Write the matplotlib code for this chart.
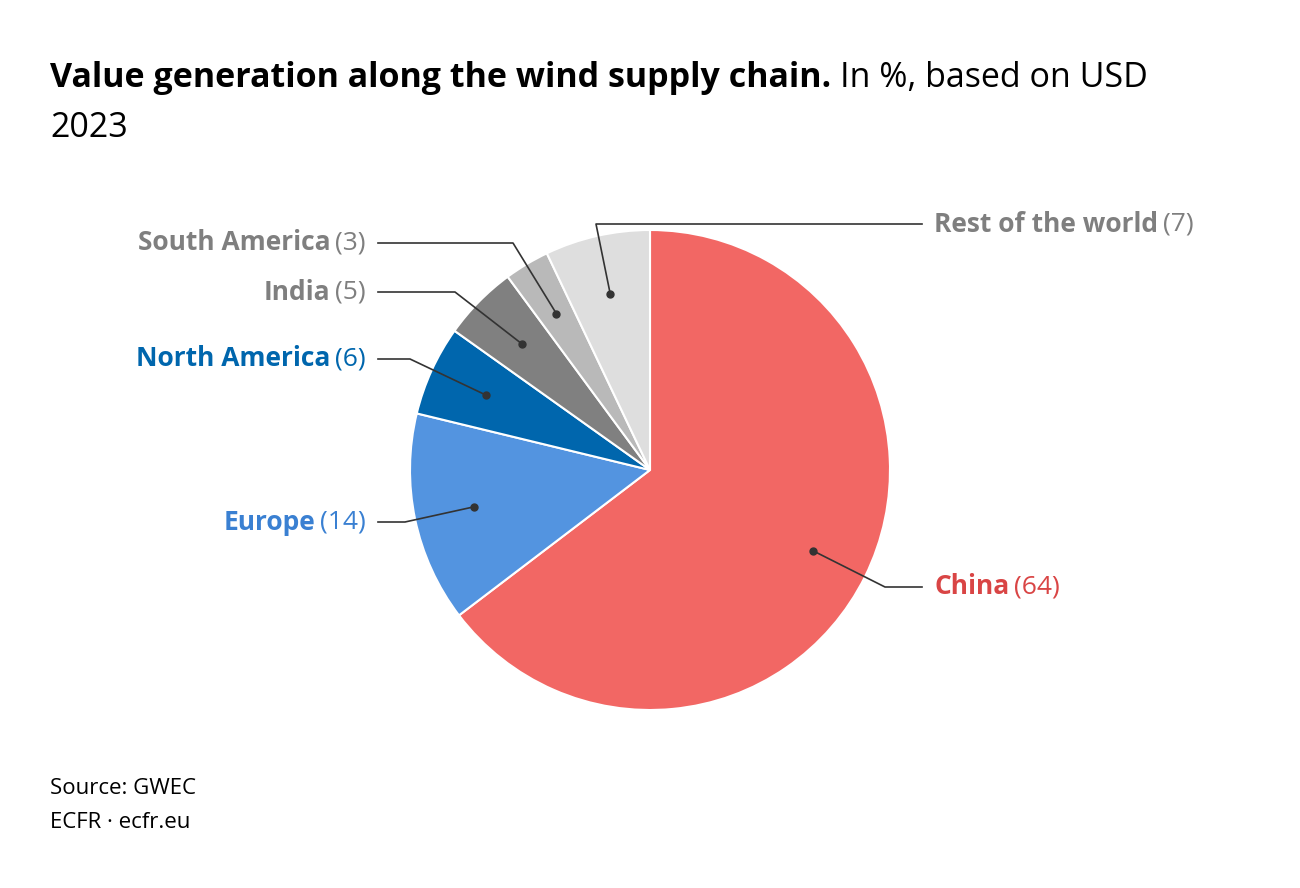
import matplotlib
matplotlib.use("Agg")
import matplotlib.pyplot as plt
import numpy as np

categories = ["China", "Europe", "North America", "India", "South America", "Rest of the world"]
values = [64, 14, 6, 5, 3, 7]
colors = ["#f26764", "#5394e0", "#0066ad", "#808080", "#b9b9b9", "#dedede"]
label_colors = ["#d94545", "#3a80d2", "#0066ad", "#7f7f7f", "#7f7f7f", "#7f7f7f"]

W, H = 1300, 888
plt.rcParams["font.family"] = "Open Sans"
fig = plt.figure(figsize=(13, 8.88), dpi=100)
ax = fig.add_axes([0, 0, 1, 1])

cx, cy, R = 650, H - 470, 240
wedges, _ = ax.pie(values, colors=colors, startangle=90, counterclock=False,
                   center=(cx, cy), radius=R, frame=True,
                   wedgeprops=dict(edgecolor="white", linewidth=1.5))
ax.set_xlim(0, W); ax.set_ylim(0, H); ax.set_aspect("equal"); ax.axis("off")

layout = {
    "China": ((885, 587), (922, 587), "left"),
    "Europe": ((405, 522), (378, 522), "right"),
    "North America": ((410, 359), (378, 359), "right"),
    "India": ((455, 292), (378, 292), "right"),
    "South America": ((513, 243), (378, 243), "right"),
    "Rest of the world": ((596, 224), (922, 224), "left"),
}
radial = {"China": 0.76, "Europe": 0.75, "North America": 0.75, "India": 0.75,
          "South America": 0.76, "Rest of the world": 0.75}

fig.canvas.draw()
rend = fig.canvas.get_renderer()

def text_width(t):
    return t.get_window_extent(renderer=rend).width

cum = 0
for cat, v, lc in zip(categories, values, label_colors):
    mid = 90 - (cum + v / 2) / sum(values) * 360
    cum += v
    r = R * radial[cat]
    dx, dy = cx + r * np.cos(np.radians(mid)), cy + r * np.sin(np.radians(mid))
    (ex, ey), (tx, ty), side = layout[cat]
    ey, ty = H - ey, H - ty
    ax.plot([dx, ex, tx], [dy, ey, ty], color="#333333", lw=1.2)
    ax.plot([dx], [dy], "o", color="#333333", ms=5)
    fs = 19
    if side == "left":
        t1 = ax.text(tx + 12, ty, cat, fontsize=fs, fontweight="bold", color=lc, va="center", ha="left")
        w = text_width(t1)
        ax.text(tx + 12 + w + 5, ty, f"({v})", fontsize=fs, color=lc, va="center", ha="left")
    else:
        t2 = ax.text(tx - 12, ty, f"({v})", fontsize=fs, color=lc, va="center", ha="right")
        w = text_width(t2)
        ax.text(tx - 12 - w - 5, ty, cat, fontsize=fs, fontweight="bold", color=lc, va="center", ha="right")

t = ax.text(50, H - 78, "Value generation along the wind supply chain.", fontsize=24.5,
            fontweight="bold", color="black", va="center", ha="left")
w = text_width(t)
ax.text(50 + w + 9, H - 78, "In %, based on USD", fontsize=24.5, color="black", va="center", ha="left")
ax.text(50, H - 128, "2023", fontsize=24.5, color="black", va="center", ha="left")
ax.text(50, H - 789, "Source: GWEC", fontsize=16, color="black", va="center", ha="left")
ax.text(50, H - 823, "ECFR · ecfr.eu", fontsize=16, color="black", va="center", ha="left")

fig.savefig("out.png", dpi=100, facecolor="white")
